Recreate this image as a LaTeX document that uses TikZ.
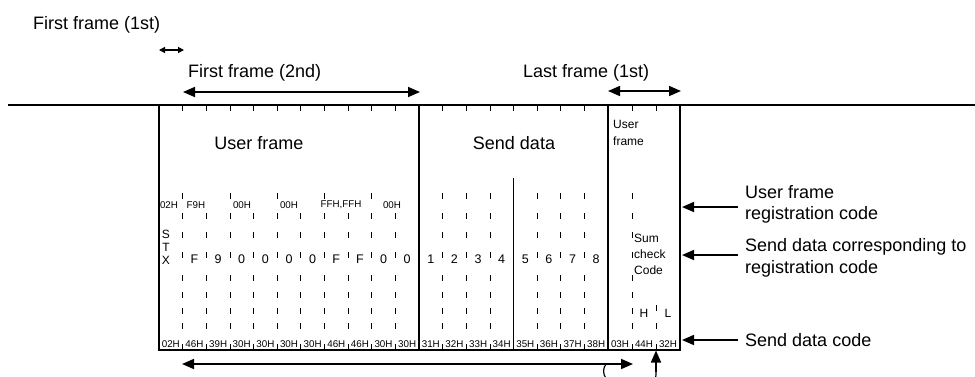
\documentclass[tikz,border=0pt]{standalone}
\usepackage{fontspec}
\setmainfont{Liberation Sans}
\usetikzlibrary{arrows.meta}
\begin{document}
\begin{tikzpicture}[x=1pt,y=-1pt,
  big/.style={font=\fontsize{18}{21}\selectfont, inner sep=0pt},
  mid/.style={font=\fontsize{12.5}{14}\selectfont, inner sep=0pt},
  sml/.style={font=\fontsize{12}{14}\selectfont, inner sep=0pt},
  hex/.style={font=\fontsize{9.8}{11}\selectfont, inner sep=0pt},
  boxline/.style={line width=1.6pt},
  dashseg/.style={line width=0.7pt},
  arr/.style={line width=1.6pt, -{Triangle[length=12pt,width=10pt]}},
  darr/.style={line width=1.6pt, {Triangle[length=12pt,width=10pt]}-{Triangle[length=12pt,width=10pt]}},
]
\useasboundingbox (0,0) rectangle (975,376);

% ---- top labels and spans
\node[big, anchor=base west] (f1) at (33,29) {First frame (1st)};
\coordinate (f1a) at (159,50); \coordinate (f1b) at (184,50);
\draw[line width=1.2pt, {Triangle[length=6pt,width=6pt]}-{Triangle[length=6pt,width=6pt]}] (f1a) -- (f1b);
\node[big, anchor=base west] (f2) at (188,77) {First frame (2nd)};
\coordinate (f2a) at (183,92); \coordinate (f2b) at (420,92);
\draw[darr] (f2a) -- (f2b);
\node[big, anchor=base west] (l1) at (523,77) {Last frame (1st)};
\coordinate (l1a) at (608,91); \coordinate (l1b) at (681,91);
\draw[darr] (l1a) -- (l1b);

% ---- frame
\coordinate (t0) at (8,105); \coordinate (t1) at (976,105);
\draw[boxline] (t0) -- (t1);
\draw[boxline] (159,105) -- (159,350) -- (680,350) -- (680,105);
\draw[boxline] (419,105) -- (419,350);
\draw[boxline] (608,105) -- (608,350);
\draw[boxline] (513.5,178) -- (513.5,350);

% top ticks
\foreach \x in {182.6,206.3,229.9,253.5,277.2,300.8,324.5,348.1,371.7,395.4,
                442.6,466.3,489.9,513.5,537.1,560.8,584.4,632,656}
  \draw[dashseg] (\x,105) -- (\x,110.5);
% bottom ticks
\foreach \x in {182.6,206.3,229.9,253.5,277.2,300.8,324.5,348.1,371.7,395.4,
                442.6,466.3,489.9,537.1,560.8,584.4,632,656}
  \draw[dashseg] (\x,344) -- (\x,350);
% dashed boundaries
\foreach \x in {182.6,206.3,229.9,253.5,277.2,300.8,324.5,348.1,371.7,395.4,
                442.6,466.3,489.9,537.1,560.8,584.4,632}
  \foreach \y in {213,232,252,275,292,308,323}
    \draw[dashseg] (\x,\y) -- (\x,\y+6);
\foreach \x in {182.6,229.9,277.2,324.5,371.7,442.6,466.3,489.9,537.1,560.8,584.4,632}
  \draw[dashseg] (\x,193) -- (\x,199);
\foreach \y in {305,323}
  \draw[dashseg] (656,\y) -- (656,\y+6);

% ---- section titles
\node[big, anchor=base] (uf) at (259,149) {User frame};
\node[big, anchor=base] (sd) at (514,149) {Send data};
\node[sml, anchor=base west] (uf2a) at (613,128) {User};
\node[sml, anchor=base west] (uf2b) at (613,145) {frame};

% ---- upper hex labels
\node[hex] (h1) at (169,205) {02H};
\node[hex] (h2) at (196,205) {F9H};
\node[hex] (h3) at (242,205) {00H};
\node[hex] (h4) at (289,205) {00H};
\node[hex] (h5) at (341,205) {FFH,FFH};
\node[hex] (h6) at (392,205) {00H};

% STX
\node[sml] (s1) at (166,234) {S};
\node[sml] (s2) at (166,247) {T};
\node[sml] (s3) at (166,260) {X};

% digits
\foreach \c/\x [count=\i] in {F/194.4,9/218.1,0/241.7,0/265.4,0/289,0/312.6,F/336.3,F/359.9,0/383.5,0/407.2,
                              1/430.8,2/454.4,3/478.1,4/501.7,5/525.3,6/548.9,7/572.6,8/596.2}
  \node[mid] (d\i) at (\x,259) {\c};

% Sum check code
\node[sml, anchor=west] (sc1) at (634,238) {Sum};
\node[sml, anchor=west] (sc2) at (634,254) {check};
\node[sml, anchor=west] (sc3) at (634,270) {Code};
\node[sml] (hh) at (644,313) {H};
\node[sml] (ll) at (668,313) {L};

% bottom hex codes
\foreach \c/\x [count=\i] in {02H/170.8,46H/194.4,39H/218.1,30H/241.7,30H/265.4,30H/289,30H/312.6,46H/336.3,46H/359.9,30H/383.5,30H/407.2,
                              31H/430.8,32H/454.4,33H/478.1,34H/501.7,35H/525.3,36H/548.9,37H/572.6,38H/596.2,
                              03H/620,44H/644,32H/668}
  \node[hex, anchor=base] (b\i) at (\x,347.5) {\c};

% ---- right side labels
\node[big, anchor=base west] (r1a) at (745,198) {User frame};
\node[big, anchor=base west] (r1b) at (745,219) {registration code};
\node[big, anchor=base west] (r2a) at (745,251) {Send data corresponding to};
\node[big, anchor=base west] (r2b) at (745,273) {registration code};
\node[big, anchor=base west] (r3) at (745,346) {Send data code};
\coordinate (ra1) at (738,207); \coordinate (rb1) at (682,207);
\coordinate (ra2) at (738,255); \coordinate (rb2) at (682,255);
\coordinate (ra3) at (738,340); \coordinate (rb3) at (682,340);
\draw[arr] (ra1) -- (rb1);
\draw[arr] (ra2) -- (rb2);
\draw[arr] (ra3) -- (rb3);

% ---- bottom span arrow and loop
\coordinate (ba) at (633,364); \coordinate (bb) at (182,364);
\draw[darr] (bb) -- (ba);
\coordinate (loopstart) at (606,364);
\coordinate (upbase) at (656,372);
\coordinate (uptip) at (656,350.5);
\draw[line width=1.2pt]
      (loopstart) .. controls (600,372) and (604,387) .. (631,387)
      .. controls (656,387) and (656,380) .. (upbase);
\draw[arr] (upbase) -- (uptip);
\end{tikzpicture}
\end{document}
